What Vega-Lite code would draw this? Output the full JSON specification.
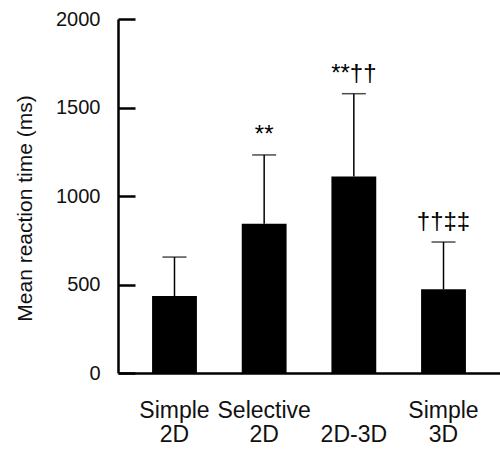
{
  "$schema": "https://vega.github.io/schema/vega-lite/v6.json",
  "width": 382,
  "height": 354,
  "autosize": "none",
  "padding": {"left": 118, "top": 19, "right": 0, "bottom": 79},
  "background": "white",
  "config": {
    "view": {"stroke": null},
    "font": "Liberation Sans",
    "axis": {"grid": false, "domainColor": "black", "labelColor": "#111", "titleColor": "#111", "labelFont": "Liberation Sans", "titleFont": "Liberation Sans"}
  },
  "data": {
    "values": [
      {"cond": "Simple 2D", "mean": 435, "upper": 655, "sig": ""},
      {"cond": "Selective 2D", "mean": 843, "upper": 1232, "sig": "**"},
      {"cond": "2D-3D", "mean": 1110, "upper": 1578, "sig": "**††"},
      {"cond": "Simple 3D", "mean": 473, "upper": 740, "sig": "††‡‡"}
    ]
  },
  "encoding": {
    "x": {
      "field": "cond", "type": "nominal", "sort": null,
      "scale": {"paddingInner": 0.5, "paddingOuter": 0.38},
      "axis": {
        "title": null, "labelAngle": 0, "ticks": false, "domainWidth": 2.5,
        "labelFontSize": 23, "labelPadding": 26, "labelBaseline": "top", "labelLineHeight": 24,
        "labelExpr": "datum.label == '2D-3D' ? ['', '2D-3D'] : split(datum.label, ' ')"
      }
    }
  },
  "resolve": {"axis": {"y": "independent"}},
  "layer": [
    {
      "mark": {"type": "bar", "color": "black"},
      "encoding": {
        "y": {
          "field": "mean", "type": "quantitative",
          "scale": {"domain": [0, 2000], "nice": false},
          "axis": {
            "orient": "left",
            "title": "Mean reaction time (ms)", "titleFontSize": 21, "titleFontWeight": "normal",
            "titleX": -93, "titleY": 189, "titleAngle": -90, "titleAlign": "center", "titleBaseline": "middle",
            "values": [0, 500, 1000, 1500, 2000], "format": "d", "ticks": false,
            "domainWidth": 2.5, "labelFontSize": 20, "labelPadding": 18
          }
        }
      }
    },
    {
      "mark": {"type": "rule", "color": "black", "strokeWidth": 1.5},
      "encoding": {
        "y": {
          "field": "mean", "type": "quantitative",
          "axis": {
            "orient": "left", "offset": -17, "title": null, "domain": false, "labels": false,
            "values": [0, 500, 1000, 1500, 2000], "tickSize": 17, "tickWidth": 2.5, "tickColor": "black"
          }
        },
        "y2": {"field": "upper"}
      }
    },
    {
      "mark": {"type": "tick", "color": "black", "thickness": 1.5, "size": 24},
      "encoding": {"y": {"field": "upper", "type": "quantitative", "axis": null}}
    },
    {
      "mark": {"type": "text", "baseline": "bottom", "dy": -8, "fontSize": 24, "color": "black"},
      "encoding": {"y": {"field": "upper", "type": "quantitative", "axis": null}, "text": {"field": "sig"}}
    }
  ]
}
